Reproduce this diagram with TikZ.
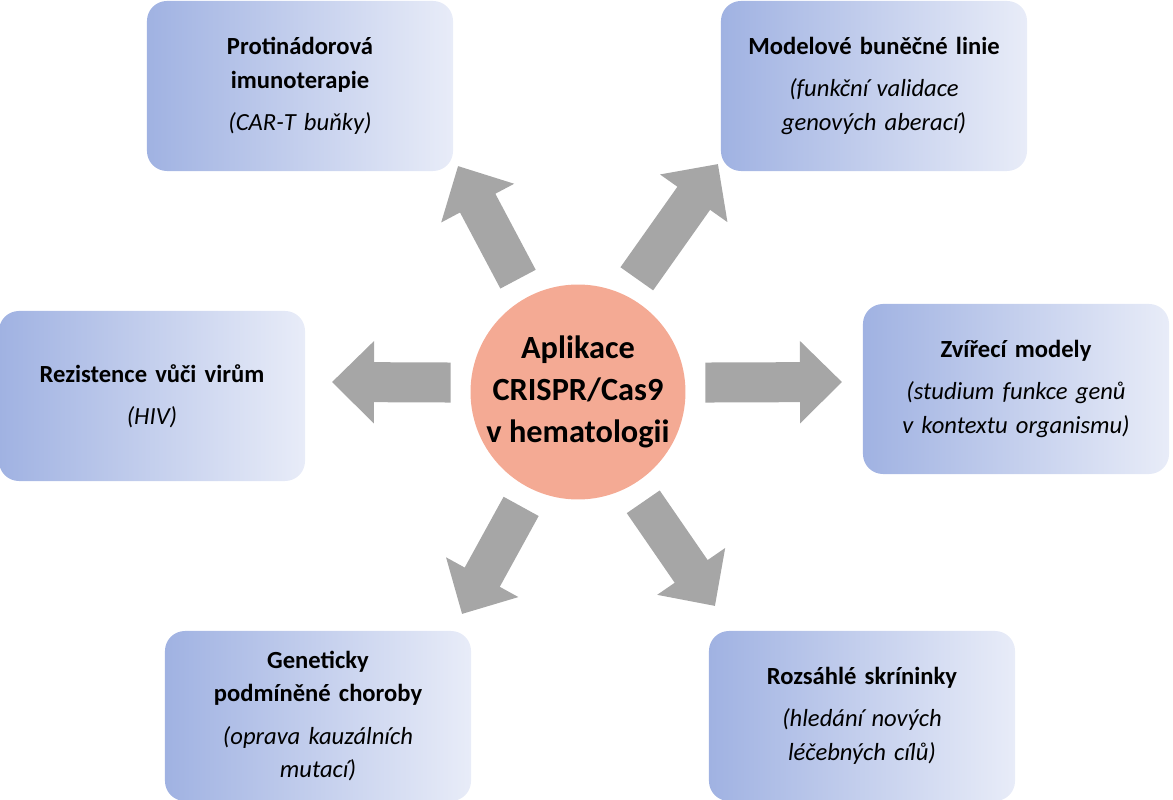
\documentclass[tikz,border=0pt]{standalone}
\usepackage{fontspec}
\setmainfont{Carlito}
\usetikzlibrary{arrows.meta}
\definecolor{boxblue}{RGB}{160,178,226}
\definecolor{boxlight}{RGB}{232,236,248}
\definecolor{arrowgray}{RGB}{166,166,166}
\definecolor{salmon}{RGB}{244,170,148}

\begin{document}
\begin{tikzpicture}[x=0.025cm, y=-0.025cm]
\tikzstyle{box} = [rectangle, rounded corners=.5cm, minimum width=7.65cm, minimum height=4.25cm, text width=7.3cm, align=center, left color=boxblue, right color=boxlight, font=\fontsize{17.5}{24}\selectfont]
\tikzstyle{blk} = [line width=1cm, draw=arrowgray, -{Triangle[width=2cm, length=1.05cm]}, shorten <=.5cm]
\useasboundingbox (0,0) rectangle (1173,800);

\node (app) [circle, fill=salmon, minimum size=5.2cm, inner sep=0pt, align=center, font=\fontsize{23}{30}\selectfont\bfseries] at (578,392) {Aplikace\\CRISPR/Cas9\\v hematologii};

\node (tl) [box] at (300,86) {\textbf{Protinádorová}\\\textbf{imunoterapie}\\[6pt]\textit{(CAR-T buňky)}};
\node (tr) [box] at (874,86) {\textbf{Modelové buněčné linie}\\[6pt]\textit{(funkční validace}\\\textit{genových aberací)}};
\node (ml) [box] at (152,396) {\textbf{Rezistence vůči virům}\\[6pt]\textit{(HIV)}};
\node (mr) [box] at (1016,389) {\textbf{Zvířecí modely}\\[6pt]\textit{(studium funkce genů}\\\textit{v kontextu organismu)}};
\node (bl) [box] at (318,716) {\textbf{Geneticky}\\\textbf{podmíněné choroby}\\[6pt]\textit{(oprava kauzálních}\\\textit{mutací)}};
\node (br) [box] at (862,716) {\textbf{Rozsáhlé skríninky}\\[6pt]\textit{(hledání nových}\\\textit{léčebných cílů)}};

\coordinate (tltip) at (458,166);
\coordinate (trtip) at (718,164);
\coordinate (mltip) at (332,382);
\coordinate (mrtip) at (842,382);
\coordinate (bltip) at (462,614);
\coordinate (brtip) at (715,606);

\draw[blk] (app.118) -- (tltip);
\draw[blk] (app.64) -- (trtip);
\draw[blk] (app.175) -- (mltip);
\draw[blk] (app.5) -- (mrtip);
\draw[blk] (app.-116) -- (bltip);
\draw[blk] (app.-60) -- (brtip);

\end{tikzpicture}
\end{document}
